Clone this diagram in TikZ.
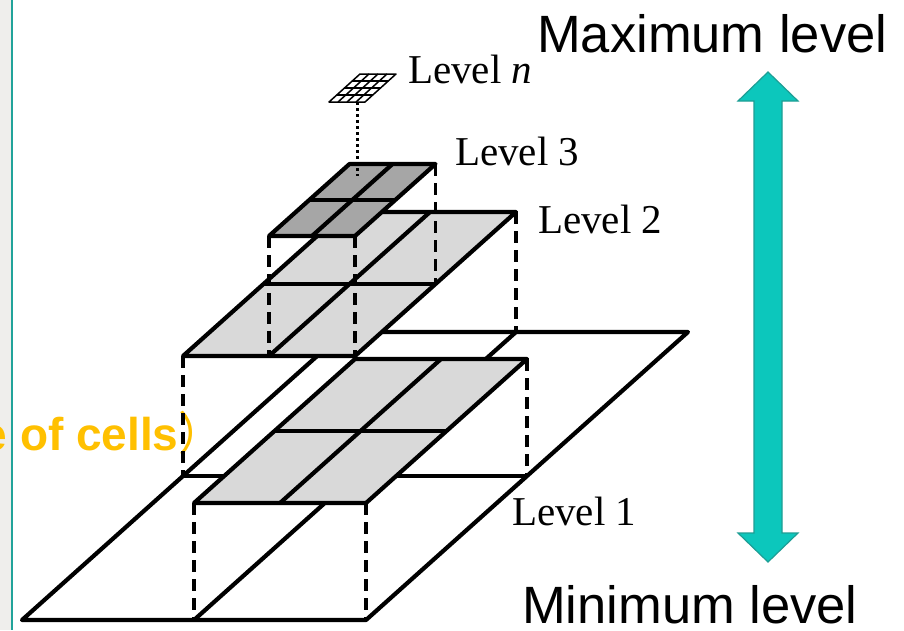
\documentclass[tikz,border=0pt]{standalone}
\usepackage{fontspec}
\setmainfont{Liberation Serif}
\newfontfamily\arialf{Liberation Sans}
\newfontfamily\cjkf{Noto Sans CJK SC}
\usetikzlibrary{calc}
\definecolor{lightcell}{HTML}{D9D9D9}
\definecolor{darkcell}{HTML}{A6A6A6}
\definecolor{tealfill}{HTML}{0CC7BC}
\definecolor{tealedge}{HTML}{1D9E95}
\definecolor{tealline}{HTML}{21A39A}
\definecolor{goldtext}{HTML}{FFC000}
\definecolor{stripgray}{HTML}{EFEEEC}
\tikzset{
  lvlone/.style={fill=white, draw=black, line width=4.2pt, line join=round},
  lvltwo/.style={fill=lightcell, draw=black, line width=4.2pt, line join=round},
  lvlthree/.style={fill=darkcell, draw=black, line width=4.2pt, line join=round},
  lvln/.style={fill=white, draw=black, line width=1.5pt, line join=round},
  dropline/.style={draw=black, line width=3.2pt, dash pattern=on 12pt off 7pt},
  dotline/.style={draw=black, line width=3pt, dash pattern=on 3pt off 3pt},
  serlabel/.style={anchor=base west, inner sep=0pt, font=\fontsize{41}{41}\selectfont},
  bigsans/.style={anchor=base west, inner sep=0pt, font=\arialf\fontsize{52.5}{52.5}\selectfont},
}
% #1 name, #2 #3 front-left corner, #4 width, #5 depth dx, #6 depth rise, #7 cells, #8 style
\newcommand\levelplane[8]{%
  \coordinate (#1FL) at (#2,#3);
  \coordinate (#1FR) at ({#2+#4},#3);
  \coordinate (#1BL) at ({#2+#5},{#3-#6});
  \coordinate (#1BR) at ({#2+#4+#5},{#3-#6});
  \path[#8, draw=none] (#1FL)--(#1FR)--(#1BR)--(#1BL)--cycle;
  \pgfmathtruncatemacro\lpm{#7-1}%
  \foreach \k in {1,...,\lpm}{%
    \path[#8, fill=none] ($(#1FL)!\k/#7!(#1FR)$) -- ($(#1BL)!\k/#7!(#1BR)$);
    \path[#8, fill=none] ($(#1FL)!\k/#7!(#1BL)$) -- ($(#1FR)!\k/#7!(#1BR)$);
  }%
  \path[#8, fill=none] (#1FL)--(#1FR)--(#1BR)--(#1BL)--cycle;
}
\begin{document}
\begin{tikzpicture}[x=1pt,y=-1pt]
\useasboundingbox (0,0) rectangle (904,630);
\fill[white] (0,0) rectangle (904,630);
% left strip and teal rule
\fill[stripgray] (0,0) rectangle (10.5,630);
\draw[tealline, line width=2.2pt] (11.8,0) -- (11.8,630);
% clipped caption
\begin{scope}
\clip (0,0) rectangle (904,630);
\node[anchor=base west, inner sep=0pt, text=goldtext] (cap) at (-18.5,450)
  {\arialf\bfseries\fontsize{46}{46}\selectfont e of cells\cjkf\mdseries）};
\end{scope}
% Level 1
\levelplane{A}{22}{620}{344}{322}{288}{2}{lvlone}
\coordinate (AFm) at ($(AFL)!0.5!(AFR)$);
\coordinate (ARm) at ($(AFR)!0.5!(ABR)$);
\coordinate (ALm) at ($(AFL)!0.5!(ABL)$);
\coordinate (ABm) at ($(ABL)!0.5!(ABR)$);
% drops of Level 2 parts
\coordinate (BFLd) at (194,503);
\coordinate (BFRd) at (366,503);
\coordinate (BBRd) at (527,359);
\coordinate (CFLd) at (183,356);
\coordinate (CBRd) at (516,212);
\draw[dropline] (BFLd) -- (AFm);
\draw[dropline] (BFRd) -- (AFR);
\draw[dropline] (BBRd) -- (ARm);
\draw[dropline] (CFLd) -- (ALm);
\draw[dropline] (CBRd) -- (ABm);
% Level 2 (two parts)
\levelplane{B}{194}{503}{172}{161}{144}{2}{lvltwo}
\levelplane{C}{183}{356}{172}{161}{144}{2}{lvltwo}
\coordinate (CFm) at ($(CFL)!0.5!(CFR)$);
\coordinate (CRm) at ($(CFR)!0.5!(CBR)$);
% drops of Level 3
\coordinate (DFLd) at (269,236);
\coordinate (DFRd) at (355,236);
\coordinate (DBRd) at (435.5,164);
\draw[dropline] (DFLd) -- (CFm);
\draw[dropline] (DFRd) -- (CFR);
\draw[dropline] (DBRd) -- (CRm);
% Level 3
\levelplane{D}{269}{236}{86}{80.5}{72}{2}{lvlthree}
% Level n
\coordinate (dotTop) at (357,102);
\coordinate (dotBot) at (357,176);
\draw[dotline] (dotTop) -- (dotBot);
\levelplane{N}{329}{102}{36}{31}{28}{4}{lvln}
% labels
\node[serlabel] (ln) at (408,83) {Level {\itshape n}};
\node[serlabel] (l3) at (455,165) {Level 3};
\node[serlabel] (l2) at (538,233) {Level 2};
\node[serlabel] (l1) at (512,525) {Level 1};
\node[bigsans] (maxl) at (537,52) {Maximum level};
\node[bigsans] (minl) at (522,623) {Minimum level};
% double arrow
\coordinate (tipT) at (768,72);
\coordinate (tipB) at (768,562);
\filldraw[fill=tealfill, draw=tealedge, line width=1.2pt, line join=miter]
  (tipT) -- (798,101) -- (782,101) -- (782,533) -- (798,533) -- (tipB)
  -- (738,533) -- (754,533) -- (754,101) -- (738,101) -- cycle;
\end{tikzpicture}
\end{document}
